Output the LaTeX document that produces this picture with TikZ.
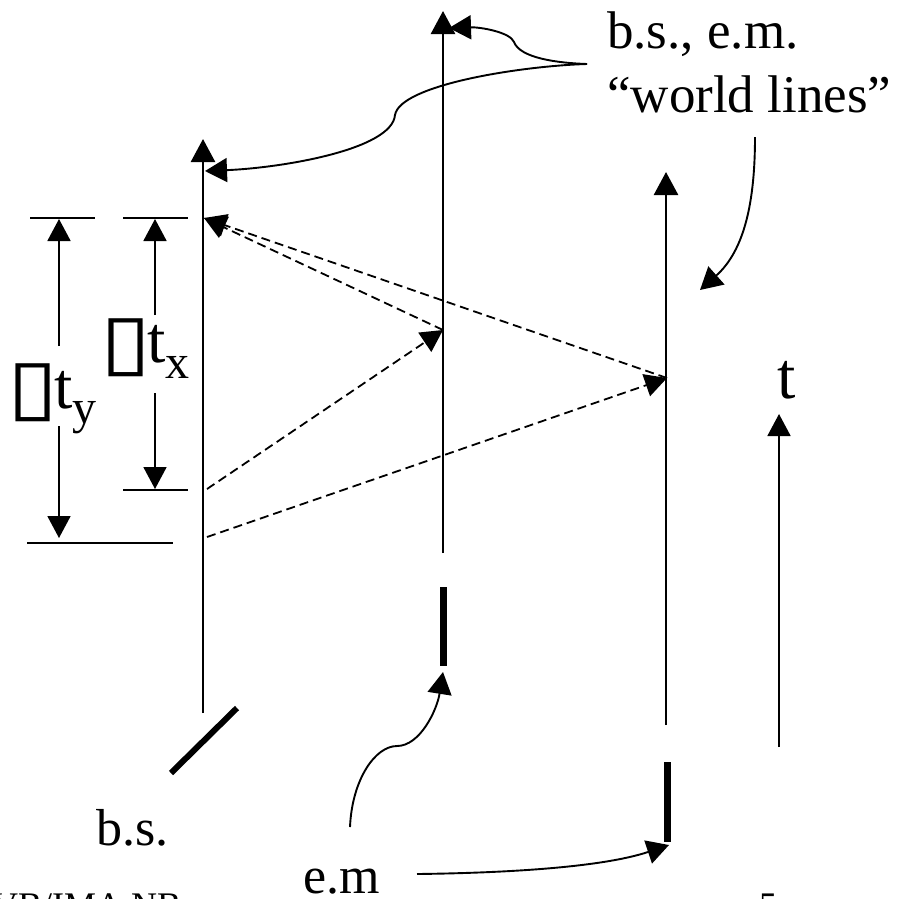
\documentclass[tikz,border=0pt]{standalone}
\usepackage{fontspec}
\usetikzlibrary{arrows.meta}
\setmainfont{Liberation Serif}
\newfontfamily\boxfont{DejaVu Sans}
\tikzset{
 lbl/.style={
 anchor=base west,
 inner sep=0pt,
 font=\fontsize{52}{60}\selectfont
 },
 toplbl/.style={
 lbl,
 font=\fontsize{53}{60}\selectfont
 },
 footlbl/.style={
 lbl,
 font=\fontsize{36}{40}\selectfont
 },
 biglbl/.style={
 lbl,
 font=\fontsize{66}{70}\selectfont
 },
 sublbl/.style={
 lbl,
 font=\fontsize{48}{50}\selectfont
 },
 boxlbl/.style={
 lbl,
 font=\fontsize{76}{80}\selectfont\boxfont,
 xscale=1.22,
 transform shape
 },
 worldline/.style={-{Triangle[length=23pt,width=24pt]}, line width=2.6pt},
 dimarrow/.style={-{Triangle[length=22pt,width=23pt]}, line width=1.8pt},
 tick/.style={line width=1.6pt},
 ray/.style={-{Triangle[length=22pt,width=23pt]}, line width=1.8pt, dash pattern=on 9pt off 5pt},
 callout/.style={-{Triangle[length=22pt,width=24pt]}, line width=1.9pt},
 optic/.style={line width=7pt}
}

\begin{document}
\begin{tikzpicture}[x=1pt,y=-1pt]
	\useasboundingbox (0,0) rectangle (909,898);
	\clip (0,0) rectangle (909,898);

	% world lines
	\coordinate (bsstart) at (203,713);
	\coordinate (bstip) at (203,139);
	\coordinate (emAstart) at (443,553);
	\coordinate (emAtip) at (443,11);
	\coordinate (emBstart) at (666,725);
	\coordinate (emBtip) at (666,172);
	\coordinate (timestart) at (779,747);
	\coordinate (timetip) at (779,414);
	\draw[worldline] (bsstart) -- (bstip);
	\draw[worldline] (emAstart) -- (emAtip);
	\draw[worldline] (emBstart) -- (emBtip);
	\draw[dimarrow] (timestart) -- (timetip);

	% optics
	\coordinate (bsA) at (171,773);
	\coordinate (bsB) at (237,708);
	\coordinate (emAa) at (443,587);
	\coordinate (emAb) at (443,666);
	\coordinate (emBa) at (667,762);
	\coordinate (emBb) at (667,842);
	\draw[line width=6pt] (bsA) -- (bsB);
	\draw[optic] (emAa) -- (emAb);
	\draw[optic] (emBa) -- (emBb);

	% light rays
	\coordinate (leaveX) at (207,489);
	\coordinate (leaveY) at (207,537);
	\coordinate (hitX) at (443,330);
	\coordinate (hitY) at (667,378);
	\coordinate (back) at (204,218);
	\draw[ray] (leaveX) -- (hitX);
	\draw[ray] (leaveY) -- (hitY);
	\draw[ray] (hitX) -- (back);
	\draw[ray] (hitY) -- (back);

	% ticks
	\coordinate (tickYa) at (30,218);
	\coordinate (tickYb) at (95,218);
	\coordinate (tickXa) at (123,218);
	\coordinate (tickXb) at (188,218);
	\coordinate (tickXc) at (123,490);
	\coordinate (tickXd) at (188,490);
	\coordinate (tickYc) at (27,543);
	\coordinate (tickYd) at (173,543);
	\draw[tick] (tickYa) -- (tickYb);
	\draw[tick] (tickXa) -- (tickXb);
	\draw[tick] (tickXc) -- (tickXd);
	\draw[tick] (tickYc) -- (tickYd);

	% delta labels
	\node[boxlbl] (boxY) at (7,412) {▯};
	\node[biglbl] (ty) at (54,408) {t};
	\node[sublbl] (suby) at (72,423) {y};
	\node[boxlbl] (boxX) at (100,367) {▯};
	\node[biglbl] (tx) at (147,362) {t};
	\node[sublbl] (subx) at (165,378) {x};

	\coordinate (dimYup) at (59,346);
	\coordinate (dimYtop) at (59,219);
	\coordinate (dimYdown) at (59,426);
	\coordinate (dimYbot) at (59,538);
	\coordinate (dimXup) at (155,315);
	\coordinate (dimXtop) at (155,219);
	\coordinate (dimXdown) at (155,393);
	\coordinate (dimXbot) at (155,489);
	\draw[dimarrow] (dimYup) -- (dimYtop);
	\draw[dimarrow] (dimYdown) -- (dimYbot);
	\draw[dimarrow] (dimXup) -- (dimXtop);
	\draw[dimarrow] (dimXdown) -- (dimXbot);

	% texts
	\node[toplbl] (wlA) at (607,48) {b.s., e.m.};
	\node[toplbl] (wlB) at (607,112) {``world lines''};
	\node[lbl] (bslabel) at (96,845) {b.s.};
	\node[lbl] (emlabel) at (303,893) {e.m};
	\node[biglbl] (tlabel) at (777,398) {t};
	\node[footlbl] (footA) at (-8,917) {VB/IMA NB};
	\node[footlbl] (footB) at (759,917) {5};

	% callouts
	\coordinate (wlfork) at (587,64);
	\coordinate (wlstart) at (755,137);
	\coordinate (emup) at (350,827);
	\coordinate (emright) at (417,874);
	\draw[callout] (wlfork) .. controls (557,63) and (520,58) .. (514,42)
		.. controls (510,32) and (480,27) .. (449,28);
	\draw[callout] (wlfork) .. controls (520,66) and (400,85) .. (395,115)
		.. controls (392,150) and (280,168) .. (205,171);
	\draw[callout] (wlstart) .. controls (755,200) and (745,250) .. (700,290);
	\draw[callout] (emup) .. controls (352,780) and (375,746) .. (397,746)
		.. controls (420,746) and (437,710) .. (443,672);
	\draw[callout] (emright) .. controls (500,873) and (600,868) .. (669,845);
\end{tikzpicture}
\end{document}
